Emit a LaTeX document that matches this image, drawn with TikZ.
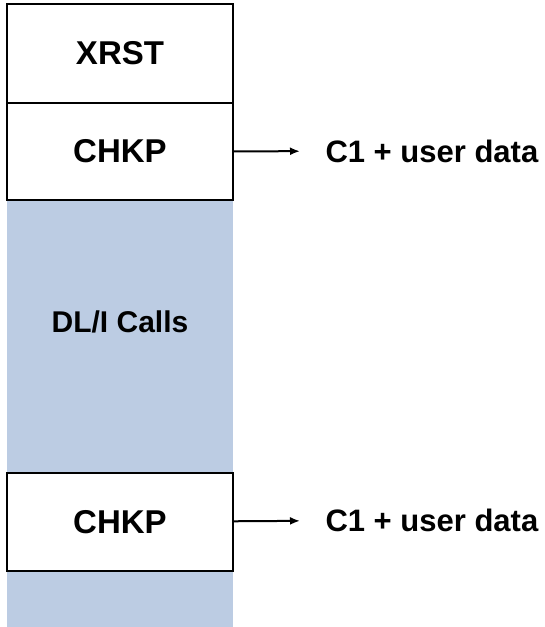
\documentclass[tikz,border=0pt]{standalone}
\usepackage{fontspec}
\setmainfont{Liberation Sans}
\usetikzlibrary{arrows.meta}
\definecolor{callblue}{RGB}{188,204,227}

\begin{document}
\begin{tikzpicture} [x=1pt, y=-1pt,
	stepbox/.style={rectangle, draw, fill=white, line width=1.2pt, inner sep=0pt, minimum width=226pt, font=\fontsize{33}{36}\selectfont\bfseries},
	datalabel/.style={anchor=west, font=\fontsize{31}{34}\selectfont\bfseries},
	feedarrow/.style={-{Latex[length=10pt,width=8pt]}, line width=2pt, shorten >=22pt}]
\useasboundingbox (0,0) rectangle (544,627);

\fill[callblue] (7,200) rectangle (233,627);

\path (120,53.5) node[stepbox, minimum height=99pt] (xrst) {XRST}
	  (120,151.5) node[stepbox, minimum height=97pt] (chkp1) {CHKP}
	  (120,522) node[stepbox, minimum height=98pt] (chkp2) {CHKP};

\path (120,322) node[font=\fontsize{30}{33}\selectfont\bfseries] (calls) {DL/I Calls};

\path (322,151) node[datalabel] (data1) {C1 + user data}
	  (322,520) node[datalabel] (data2) {C1 + user data};

\draw[feedarrow] (chkp1) to (data1);
\draw[feedarrow] (chkp2) to (data2);
\end{tikzpicture}
\end{document}
